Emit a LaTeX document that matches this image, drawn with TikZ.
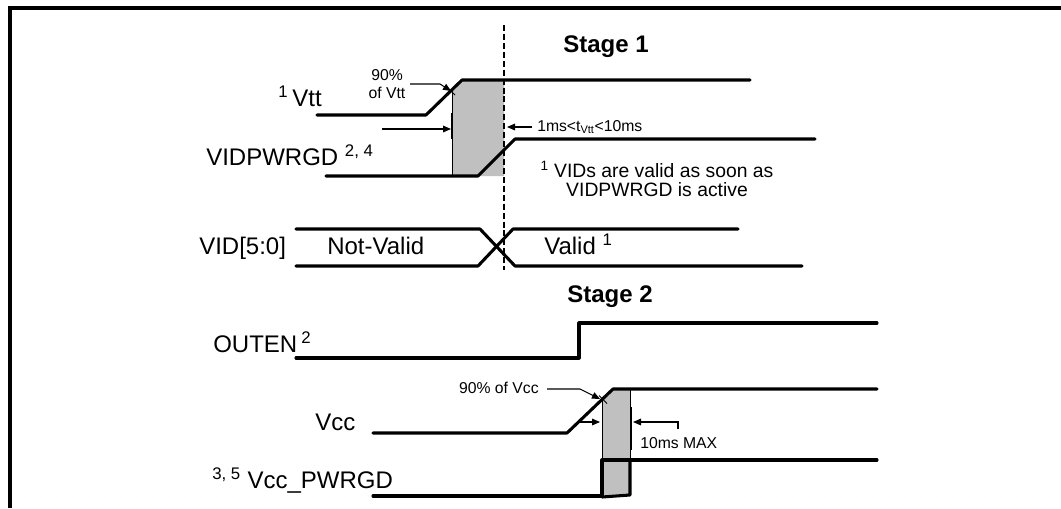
\documentclass[tikz,border=0pt]{standalone}
\usepackage{fontspec}
\setmainfont{Liberation Sans}
\usetikzlibrary{arrows.meta}
\definecolor{boxgray}{HTML}{C0C0C0}
\begin{document}
\begin{tikzpicture}[x=0.75pt,y=-0.75pt,
  sig/.style={line width=2.3pt, line join=round, line cap=round},
  thinl/.style={line width=0.7pt},
  tick/.style={line width=1.6pt},
  lbl/.style={font=\fontsize{18}{20}\selectfont, inner sep=0pt},
  small/.style={font=\fontsize{11.8}{13.5}\selectfont, inner sep=0pt, align=center},
  note/.style={font=\fontsize{14.5}{14}\selectfont, inner sep=0pt, align=center},
  stage/.style={font=\bfseries\fontsize{18}{20}\selectfont, inner sep=0pt},
  arr/.style={line width=0.8pt, -{Triangle[length=6pt,width=5pt]}}]
\useasboundingbox (0,0) rectangle (1061,508);

% frame
\draw[line width=2.3pt] (10,508) -- (10,8) -- (1061,8);

% gray windows
\fill[boxgray] (452,89.7) -- (462,80) -- (504,80) -- (504,176) -- (452,176) -- cycle;
\draw[thinl] (452,89.7) -- (452,176);
\fill[boxgray] (602,399.5) -- (613,389) -- (630,389) -- (630,495) -- (602,497) -- cycle;
\draw[thinl] (602,399.5) -- (602,460);
\draw[thinl] (630,389) -- (630,460);

% dashed marker
\coordinate (dtop) at (504,25);
\coordinate (dbot) at (504,270);
\draw[line width=1.6pt, dash pattern=on 4.5pt off 2.2pt] (dtop) -- (dbot);

% signals
\draw[sig] (317,115) -- (426,115) -- (462,80) -- (750,80);
\draw[sig] (326,176) -- (478,176) -- (515,139) -- (815,139);
\draw[sig] (296,229) -- (480,229) -- (515,266) -- (802,266);
\draw[sig] (296,266) -- (478,266) -- (513,229) -- (738,229);
\draw[sig] (296,358) -- (579,358) -- (579,323) -- (877,323);
\draw[sig] (373,433) -- (567,433) -- (613,389) -- (877,389);
\draw[sig] (373,496) -- (602,496) -- (602,460) -- (877,460);
\draw[sig] (602,460) -- (630,460) -- (630,495) -- (602,497);

% labels
\node[lbl, anchor=base east] (vtt) at (322,106) {\textsuperscript{1}\,Vtt};
\node[lbl, anchor=base west] (vidpg) at (206,165) {VIDPWRGD \textsuperscript{2, 4}};
\node[lbl, anchor=base west] (vid) at (199,254) {VID[5:0]};
\node[lbl, anchor=base west] (nv) at (327,254) {Not-Valid};
\node[lbl, anchor=base west] (val) at (544,254) {Valid \textsuperscript{1}};
\node[lbl, anchor=base west] (outen) at (213,352) {OUTEN\,\textsuperscript{2}};
\node[lbl, anchor=base west] (vcc) at (315,430) {Vcc};
\node[lbl, anchor=base west] (vccpg) at (212,488) {\textsuperscript{3, 5} Vcc\_PWRGD};
\node[stage, anchor=base] (st1) at (606,52) {Stage 1};
\node[stage, anchor=base] (st2) at (610,302) {Stage 2};

% Vtt annotations
\node[small] (v90) at (387,84) {90\%\\of Vtt};
\coordinate (x90) at (451,91);
\draw[arr] (410,84) -- (440,84) -- (x90);
\draw[thinl] (447,87) -- (455,95);
\coordinate (gl1) at (451,129);
\draw[arr] (382,129) -- (gl1);
\draw[tick] (452,113) -- (452,139);
\node[small, anchor=west] (tvtt) at (537,127) {1ms<t\textsubscript{Vtt}<10ms};
\coordinate (gr1) at (507,127);
\draw[arr] (tvtt.west) ++(-5,0) -- (gr1);
\node[note] (vnote) at (657,179) {\textsuperscript{1} VIDs are valid as soon as\\VIDPWRGD is active};

% Vcc annotations
\node[small, anchor=east] (c90) at (539,388) {90\% of Vcc};
\coordinate (xc90) at (600,399);
\draw[arr] (547,389) -- (580,389) -- (xc90);
\draw[thinl] (599,395.5) -- (607,403.5);
\coordinate (gl2) at (600,422);
\draw[arr] (578.5,422) -- (gl2);
\draw[tick] (631,407) -- (631,450);
\coordinate (gr2) at (633,422);
\draw[arr] (678,429) -- (678,422) -- (gr2);
\node[small, anchor=west] (tmax) at (640,443) {10ms MAX};
\end{tikzpicture}
\end{document}
